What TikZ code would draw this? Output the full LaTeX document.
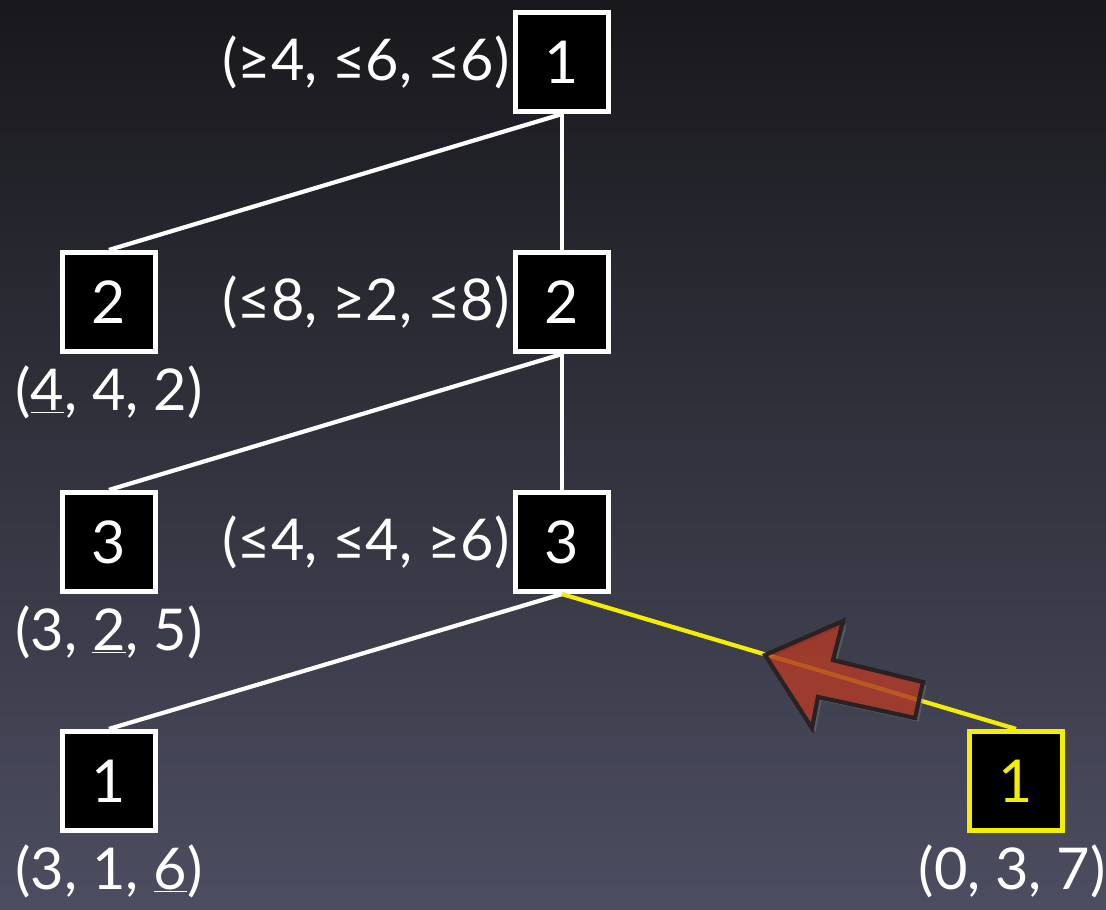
\documentclass[tikz,border=0pt]{standalone}
\usepackage{fontspec}
\setmainfont{Lato}
\usepackage{xcolor}
\usepackage{tikz}
\usetikzlibrary{positioning,shadows}
\definecolor{bgtop}{HTML}{18181C}
\definecolor{bgbottom}{HTML}{4C4D60}
\definecolor{hilite}{HTML}{F5EE00}
\definecolor{arrowred}{HTML}{B8301A}
\definecolor{arrowedge}{HTML}{2A2222}

\begin{document}
\begin{tikzpicture}[x=0.025cm, y=-0.025cm, every node/.style={font=\fontsize{41}{45}\selectfont, text=white}, box/.style={draw=white, line width=3.5pt, fill=black, minimum width=2.33cm, minimum height=2.48cm, inner sep=0pt, font=\fontsize{42}{46}\selectfont, drop shadow={opacity=0.45, shadow xshift=2pt, shadow yshift=-2pt}}, hot/.style={box, draw=hilite, text=hilite}, val/.style={inner sep=0pt}, edge/.style={white, line width=3pt}]
\shade[top color=bgtop, bottom color=bgbottom] (0,0) rectangle (1106,909);
\node[box] (a1) at (562,62) {1};
\node[box] (b2) at (109,302) {2};
\node[box] (a2) at (562,302) {2};
\node[box] (b3) at (109,542) {3};
\node[box] (a3) at (562,542) {3};
\node[box] (b1) at (109,781) {1};
\node[hot] (c1) at (1016,781) {1};
\draw[edge] (a1.south) -- (b2.north);
\draw[edge] (a1.south) -- (a2.north);
\draw[edge] (a2.south) -- (b3.north);
\draw[edge] (a2.south) -- (a3.north);
\draw[edge] (a3.south) -- (b1.north);
\draw[edge, hilite] (a3.south) -- (c1.north);
\node[val, left=0.08cm of a1] (a1v) {(≥4, ≤6, ≤6)};
\node[val, left=0.08cm of a2] (a2v) {(≤8, ≥2, ≤8)};
\node[val, left=0.08cm of a3] (a3v) {(≤4, ≤4, ≥6)};
\node[val, below=0.28cm of b2] (b2v) {(\underline{4}, 4, 2)};
\node[val, below=0.28cm of b3] (b3v) {(3, \underline{2}, 5)};
\node[val, below=0.28cm of b1] (b1v) {(3, 1, \underline{6})};
\node[val, below=0.28cm of c1, xshift=-0.1cm] (c1v) {(0, 3, 7)};
% the move
\filldraw[fill=arrowred, fill opacity=0.72, draw=arrowedge, line width=3pt, drop shadow={opacity=0.4}] (765,655) -- (843,621) -- (833,660) -- (923,682) -- (915,718) -- (818,697) -- (812,728) -- cycle;
\end{tikzpicture}
\end{document}
